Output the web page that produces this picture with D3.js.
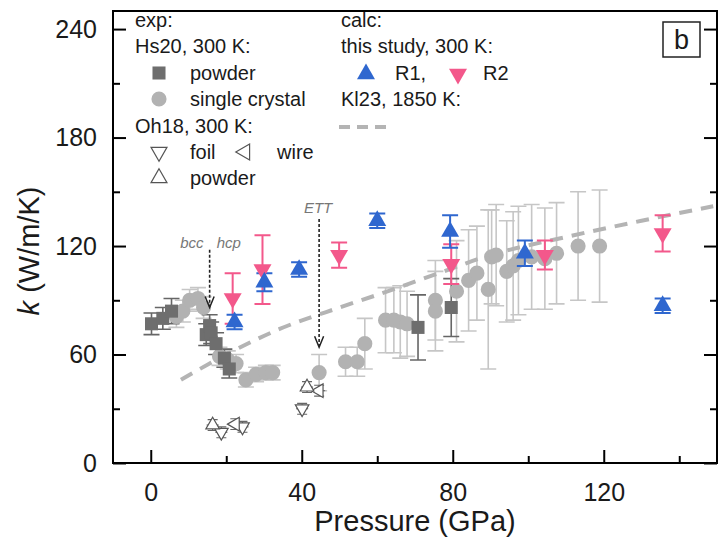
<!DOCTYPE html>
<html>
<head>
<meta charset="utf-8">
<script src="https://cdn.jsdelivr.net/npm/d3@7"></script>
<style>
    body { margin: 0; background: #fff; }
    svg { font-family: Arial, "Liberation Sans", sans-serif; }
    .axis path { display: none; }
    .axis line { stroke: #000; stroke-width: 2; }
    .axis text { font-size: 25px; fill: #1a1a1a; }
    .leg { font-size: 20px; fill: #1a1a1a; }
</style>
</head>
<body>
<div id="chart"></div>
<script>
// ---- data: [pressure GPa, k W/m/K, error] ----
const hs20Powder = [
    [0.2, 77, 6], [3.2, 80, 6], [5.5, 84, 7], [14.7, 71, 6], [15.6, 76, 6],
    [16.0, 72, 6], [17.3, 66, 6], [19.5, 58, 5], [20.8, 52, 5],
    [70.8, 75, 18], [79.6, 86, 16]
];
const hs20Single = [
    [6.8, 81, 6], [8.5, 84, 6], [10.3, 90, 6], [12.5, 91, 6], [14.0, 86, 6],
    [18.2, 59, 5], [20.4, 57, 5], [22.6, 55, 5], [25.2, 46, 4], [27.9, 49, 4],
    [30.5, 50, 4], [32.3, 50, 4], [44.6, 50, 10], [51.6, 56, 8], [54.7, 56, 8],
    [56.7, 66, 14], [62.2, 79, 18], [64.4, 79, 18], [66.1, 78, 20], [67.9, 77, 18],
    [75.4, 90, 22], [75.4, 84, 22], [81.0, 95, 28], [84.2, 101, 28], [86.4, 105, 26],
    [89.4, 96, 44], [90.3, 114, 26], [91.5, 115, 28], [94.3, 106, 28], [96.0, 109, 30],
    [97.4, 112, 30], [100.9, 114, 29], [104.4, 113, 28], [107.5, 116, 28],
    [113.2, 120, 30], [118.9, 120, 31]
];
const oh18Foil = [[18.7, 17, 3], [24.3, 20, 3], [40.1, 30, 3]];
const oh18Wire = [[22.4, 21.5, 3], [44.6, 40, 3]];
const oh18Powder = [[16.4, 21, 3], [41.4, 42, 3]];
const calcR1 = [
    [22.2, 78, 4], [30.1, 100, 5], [39.3, 107, 4], [60.0, 134, 4],
    [79.3, 128, 9], [99.1, 116, 7], [135.6, 87, 4]
];
const calcR2 = [
    [21.7, 91, 14], [29.6, 107, 19], [49.9, 115, 7],
    [79.6, 110, 11], [104.4, 115, 8], [135.6, 127, 10]
];
const kl23P = [8, 20, 34, 50, 60, 75, 90, 110, 130, 149];
const kl23K = [46, 60, 74, 86, 93, 104, 115, 125, 134, 142];

// phase transition arrows: [pressure, k from, k to]
const transitions = [[15.6, 118, 86], [44.6, 135, 64]];

const xMajor = [0, 40, 80, 120];
const xMinor = [20, 60, 100, 140];
const yMajor = [0, 60, 120, 180, 240];
const yMinor = [30, 90, 150, 210];

const W = 722, H = 548;
const margin = { top: 11, right: 5, bottom: 85, left: 113 };
const width = W - margin.left - margin.right;
const height = H - margin.top - margin.bottom;

const svg = d3.select('#chart').append('svg')
    .attr('width', W)
    .attr('height', H);

const x = d3.scaleLinear().domain([-10, 150]).range([margin.left, margin.left + width]);
const y = d3.scaleLinear().domain([0, 250]).range([margin.top + height, margin.top]);

const BLUE = '#2f67cf';
const PINK = '#f3588b';

// --- helpers ---
function errBars(data, color, sw, cap) {
    svg.append('g').selectAll('path')
        .data(data)
        .join('path')
        .attr('d', d => {
            const cx = x(d[0]), y1 = y(d[1] + d[2]), y2 = y(d[1] - d[2]);
            return `M${cx},${y1}V${y2}M${cx - cap},${y1}h${2 * cap}M${cx - cap},${y2}h${2 * cap}`;
        })
        .attr('fill', 'none')
        .attr('stroke', color)
        .attr('stroke-width', sw);
}

function xErrBars(data, color, sw, dx) {
    svg.append('g').selectAll('path')
        .data(data)
        .join('path')
        .attr('d', d => `M${x(d[0] - dx)},${y(d[1])}H${x(d[0] + dx)}`)
        .attr('stroke', color)
        .attr('stroke-width', sw);
}

function marks(data, type, size, rot, fill, stroke, sw) {
    svg.append('g').selectAll('path')
        .data(data)
        .join('path')
        .attr('transform', d => `translate(${x(d[0])},${y(d[1])}) rotate(${rot})`)
        .attr('d', d3.symbol(type, size))
        .attr('fill', fill)
        .attr('stroke', stroke)
        .attr('stroke-width', sw);
}

// --- experimental error bars ---
errBars(hs20Single, '#c6c6c6', 1.6, 8);
errBars(hs20Powder, '#666', 1.6, 8);

// --- Kl23 dashed curve ---
const kl23 = kl23P.map((p, i) => [p, kl23K[i]]);
svg.append('path')
    .datum(kl23)
    .attr('d', d3.line().x(d => x(d[0])).y(d => y(d[1])).curve(d3.curveMonotoneX))
    .attr('fill', 'none')
    .attr('stroke', '#b4b4b4')
    .attr('stroke-width', 4)
    .attr('stroke-dasharray', '13,9');

// --- experimental markers ---
marks(hs20Single, d3.symbolCircle, 180, 0, '#b2b2b2', 'none', 0);
marks(hs20Powder, d3.symbolSquare, 170, 0, '#6e6e6e', 'none', 0);

// Oh18 open triangles with x/y error bars
const oh18All = oh18Foil.concat(oh18Wire, oh18Powder);
errBars(oh18All, '#666', 1.1, 5);
xErrBars(oh18All, '#666', 1.1, 1.6);
marks(oh18Foil, d3.symbolTriangle, 80, 180, '#fff', '#555', 1.2);
marks(oh18Wire, d3.symbolTriangle, 80, -90, '#fff', '#555', 1.2);
marks(oh18Powder, d3.symbolTriangle, 80, 0, '#fff', '#555', 1.2);

// --- calculations ---
errBars(calcR2, PINK, 2, 8);
errBars(calcR1, BLUE, 2, 8);
marks(calcR2, d3.symbolTriangle, 140, 180, PINK, 'none', 0);
marks(calcR1, d3.symbolTriangle, 140, 0, BLUE, 'none', 0);

// --- transition arrows ---
transitions.forEach(t => {
    const cx = x(t[0]), y1 = y(t[1]), y2 = y(t[2]);
    svg.append('line')
        .attr('x1', cx).attr('x2', cx)
        .attr('y1', y1).attr('y2', y2 - 1)
        .attr('stroke', '#222')
        .attr('stroke-width', 1.6)
        .attr('stroke-dasharray', '3,2');
    svg.append('path')
        .attr('d', `M${cx - 4.5},${y2 - 11}L${cx},${y2}L${cx + 4.5},${y2 - 11}`)
        .attr('fill', 'none')
        .attr('stroke', '#222')
        .attr('stroke-width', 1.5);
});

const annot = svg.append('g')
    .attr('font-size', 15)
    .attr('font-style', 'italic')
    .attr('fill', '#777');
annot.append('text').attr('x', x(transitions[0][0]) - 6).attr('y', y(transitions[0][1]) - 2)
    .attr('text-anchor', 'end').text('bcc');
annot.append('text').attr('x', x(transitions[0][0]) + 7).attr('y', y(transitions[0][1]) - 2)
    .attr('text-anchor', 'start').text('hcp');
annot.append('text').attr('x', x(transitions[1][0]) - 1).attr('y', y(transitions[1][1]) - 6)
    .attr('text-anchor', 'middle').text('ETT');

// --- axes (ticks point inward) ---
const bottom = margin.top + height;
svg.append('g')
    .attr('class', 'axis')
    .attr('transform', `translate(0,${bottom})`)
    .call(d3.axisBottom(x).tickValues(xMajor).tickSize(-13).tickPadding(20).tickFormat(d3.format('d')));
svg.append('g')
    .attr('class', 'axis')
    .attr('transform', `translate(0,${bottom})`)
    .call(d3.axisBottom(x).tickValues(xMinor).tickSize(-7).tickFormat(''));

svg.append('g')
    .attr('class', 'axis')
    .attr('transform', `translate(${margin.left},0)`)
    .call(d3.axisLeft(y).tickValues(yMajor).tickSize(-13).tickPadding(16).tickFormat(d3.format('d')));
svg.append('g')
    .attr('class', 'axis')
    .attr('transform', `translate(${margin.left},0)`)
    .call(d3.axisLeft(y).tickValues(yMinor).tickSize(-7).tickFormat(''));

svg.append('g')
    .attr('class', 'axis')
    .attr('transform', `translate(${margin.left + width},0)`)
    .call(d3.axisRight(y).tickValues(yMajor).tickSize(-13).tickFormat(''));
svg.append('g')
    .attr('class', 'axis')
    .attr('transform', `translate(${margin.left + width},0)`)
    .call(d3.axisRight(y).tickValues(yMinor).tickSize(-7).tickFormat(''));

// frame
svg.append('rect')
    .attr('x', margin.left).attr('y', margin.top)
    .attr('width', width).attr('height', height)
    .attr('fill', 'none')
    .attr('stroke', '#000')
    .attr('stroke-width', 2);

// --- axis labels ---
svg.append('text')
    .attr('x', margin.left + width / 2)
    .attr('y', 531)
    .attr('text-anchor', 'middle')
    .attr('font-size', 29)
    .attr('fill', '#1a1a1a')
    .text('Pressure (GPa)');

const yl = svg.append('text')
    .attr('transform', `translate(39,${margin.top + height / 2 + 14}) rotate(-90)`)
    .attr('text-anchor', 'middle')
    .attr('font-size', 29)
    .attr('fill', '#1a1a1a');
yl.append('tspan').attr('font-style', 'italic').text('k');
yl.append('tspan').text(' (W/m/K)');

// --- legend ---
const leg = svg.append('g').attr('class', 'leg');
const L1 = 135, L2 = 341;
const rows = [27, 53, 80, 106, 133, 159, 185];

leg.append('text').attr('class', 'leg').attr('x', L1).attr('y', rows[0]).text('exp:');
leg.append('text').attr('class', 'leg').attr('x', L1).attr('y', rows[1]).text('Hs20, 300 K:');
leg.append('path').attr('transform', `translate(159,${rows[2] - 7})`)
    .attr('d', d3.symbol(d3.symbolSquare, 170)).attr('fill', '#6e6e6e');
leg.append('text').attr('class', 'leg').attr('x', 190).attr('y', rows[2]).text('powder');
leg.append('path').attr('transform', `translate(159,${rows[3] - 7})`)
    .attr('d', d3.symbol(d3.symbolCircle, 180)).attr('fill', '#b2b2b2');
leg.append('text').attr('class', 'leg').attr('x', 190).attr('y', rows[3]).text('single crystal');
leg.append('text').attr('class', 'leg').attr('x', L1).attr('y', rows[4]).text('Oh18, 300 K:');
leg.append('path').attr('transform', `translate(159,${rows[5] - 7}) rotate(180)`)
    .attr('d', d3.symbol(d3.symbolTriangle, 110)).attr('fill', '#fff').attr('stroke', '#555').attr('stroke-width', 1.2);
leg.append('text').attr('class', 'leg').attr('x', 190).attr('y', rows[5]).text('foil');
leg.append('path').attr('transform', `translate(245,${rows[5] - 7}) rotate(-90)`)
    .attr('d', d3.symbol(d3.symbolTriangle, 110)).attr('fill', '#fff').attr('stroke', '#555').attr('stroke-width', 1.2);
leg.append('text').attr('class', 'leg').attr('x', 277).attr('y', rows[5]).text('wire');
leg.append('path').attr('transform', `translate(159,${rows[6] - 7})`)
    .attr('d', d3.symbol(d3.symbolTriangle, 110)).attr('fill', '#fff').attr('stroke', '#555').attr('stroke-width', 1.2);
leg.append('text').attr('class', 'leg').attr('x', 190).attr('y', rows[6]).text('powder');

leg.append('text').attr('class', 'leg').attr('x', L2).attr('y', rows[0]).text('calc:');
leg.append('text').attr('class', 'leg').attr('x', L2).attr('y', rows[1]).text('this study, 300 K:');
leg.append('path').attr('transform', `translate(366,${rows[2] - 6})`)
    .attr('d', d3.symbol(d3.symbolTriangle, 140)).attr('fill', BLUE);
leg.append('text').attr('class', 'leg').attr('x', 395).attr('y', rows[2]).text('R1,');
leg.append('path').attr('transform', `translate(458,${rows[2] - 6}) rotate(180)`)
    .attr('d', d3.symbol(d3.symbolTriangle, 140)).attr('fill', PINK);
leg.append('text').attr('class', 'leg').attr('x', 483).attr('y', rows[2]).text('R2');
leg.append('text').attr('class', 'leg').attr('x', L2).attr('y', rows[3]).text('Kl23, 1850 K:');
leg.append('line')
    .attr('x1', 339).attr('x2', 386)
    .attr('y1', 127).attr('y2', 127)
    .attr('stroke', '#b4b4b4')
    .attr('stroke-width', 4)
    .attr('stroke-dasharray', '11,7');

// panel label
svg.append('rect')
    .attr('x', 663).attr('y', 22)
    .attr('width', 37).attr('height', 35)
    .attr('fill', '#fff')
    .attr('stroke', '#222')
    .attr('stroke-width', 1.5);
svg.append('text')
    .attr('x', 681.5).attr('y', 49)
    .attr('text-anchor', 'middle')
    .attr('font-size', 27)
    .attr('fill', '#1a1a1a')
    .text('b');
</script>
</body>
</html>
